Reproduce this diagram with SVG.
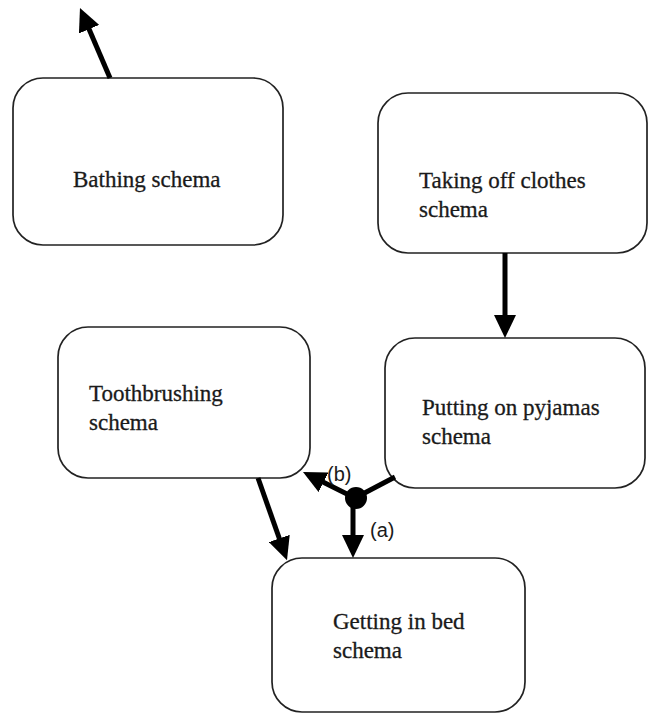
<svg xmlns="http://www.w3.org/2000/svg" width="649" height="715" viewBox="0 0 649 715">
<style>
.box{fill:#fff;stroke:#222;stroke-width:1.7}
.t{font-family:"Liberation Serif","Times New Roman",serif;font-size:23px;fill:#1a1a1a;stroke:#1a1a1a;stroke-width:0.3}
.lbl{font-family:"Liberation Sans",Arial,sans-serif;font-size:20px;fill:#1a1a1a}
.c{stroke:#000;stroke-width:5;fill:none}
</style>
<defs>
<marker id="ah" markerUnits="userSpaceOnUse" markerWidth="24" markerHeight="22" refX="8" refY="11" orient="auto">
<path d="M0,0 L23,11 L0,22 Z" fill="#000"/>
</marker>
</defs>
<rect width="649" height="715" fill="#fff"/>
<g id="bathing">
<rect class="box" x="13" y="78" width="270" height="167" rx="30"/>
<text class="t" x="73" y="187">Bathing schema</text>
</g>
<g id="taking-off">
<rect class="box" x="378" y="93" width="269" height="160" rx="30"/>
<text class="t" x="419" y="188">Taking off clothes</text>
<text class="t" x="419" y="217">schema</text>
</g>
<g id="pyjamas">
<rect class="box" x="385" y="338" width="260" height="150" rx="30"/>
<text class="t" x="422" y="415">Putting on pyjamas</text>
<text class="t" x="422" y="444">schema</text>
</g>
<g id="toothbrushing">
<rect class="box" x="58" y="327" width="252" height="151" rx="30"/>
<text class="t" x="89" y="401">Toothbrushing</text>
<text class="t" x="89" y="430">schema</text>
</g>
<g id="bed">
<rect class="box" x="272" y="558" width="253" height="154" rx="30"/>
<text class="t" x="333" y="629">Getting in bed</text>
<text class="t" x="333" y="658">schema</text>
</g>
<g id="connectors">
<line class="c" x1="110" y1="78" x2="85.9" y2="21.8" marker-end="url(#ah)"/>
<line class="c" x1="505" y1="253" x2="505" y2="323" marker-end="url(#ah)"/>
<line class="c" x1="258" y1="478" x2="282" y2="546" marker-end="url(#ah)"/>
<line class="c" x1="395" y1="477" x2="355" y2="498"/>
<line class="c" x1="355" y1="498" x2="316.4" y2="478.7" marker-end="url(#ah)"/>
<line class="c" x1="353" y1="498" x2="353" y2="543" marker-end="url(#ah)"/>
<circle cx="356" cy="498" r="11" fill="#000"/>
<text class="lbl" x="327" y="481">(b)</text>
<text class="lbl" x="370" y="537">(a)</text>
</g>
</svg>
